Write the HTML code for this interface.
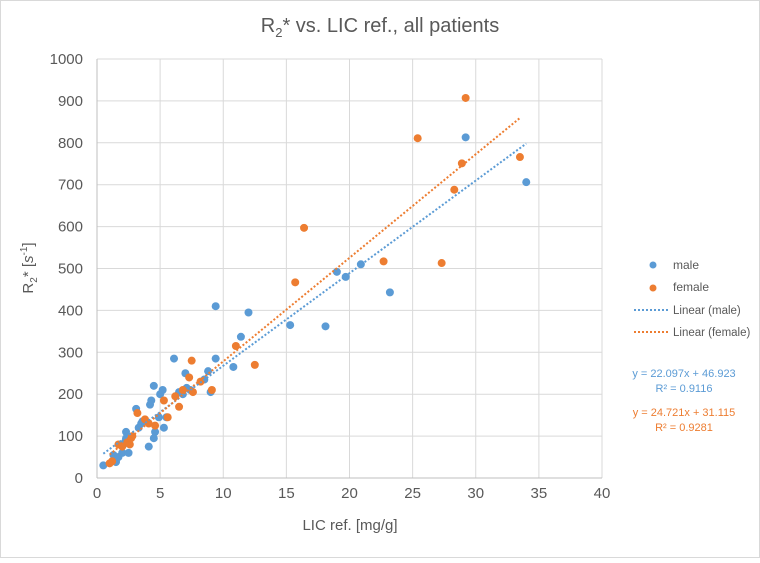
<!DOCTYPE html>
<html><head><meta charset="utf-8"><style>
body{margin:0;background:#fff;font-family:"Liberation Sans",sans-serif}
svg text{font-family:"Liberation Sans",sans-serif}
</style></head><body>
<svg width="760" height="558" viewBox="0 0 760 558">
<rect x="0.5" y="0.5" width="759" height="557" fill="#fff" stroke="#d9d9d9"/>
<text x="380" y="32" text-anchor="middle" font-size="20" fill="#595959">R<tspan font-size="13" dy="5">2</tspan><tspan dy="-5">* vs. LIC ref., all patients</tspan></text>
<g id="grid"></g><g id="marks"></g>
<text x="350" y="530" text-anchor="middle" font-size="15" fill="#595959">LIC ref. [mg/g]</text>
<text transform="translate(33,268) rotate(-90)" text-anchor="middle" font-size="15" fill="#595959">R<tspan font-size="10" dy="4">2</tspan><tspan dy="-4">* [</tspan><tspan font-style="italic">s</tspan><tspan font-size="10" dy="-6">-1</tspan><tspan dy="6">]</tspan></text>
<g font-size="12" fill="#595959">
<circle cx="653" cy="265" r="3.5" fill="#5b9bd5"/>
<text x="673" y="269">male</text>
<circle cx="653" cy="288" r="3.5" fill="#ed7d31"/>
<text x="673" y="291">female</text>
<line x1="634" y1="310" x2="670" y2="310" stroke="#5b9bd5" stroke-width="2" stroke-dasharray="2,2"/>
<text x="673" y="314" font-size="11.5">Linear (male)</text>
<line x1="634" y1="332" x2="670" y2="332" stroke="#ed7d31" stroke-width="2" stroke-dasharray="2,2"/>
<text x="673" y="336" font-size="11.5">Linear (female)</text>
</g>
<g font-size="11" text-anchor="middle">
<text x="684" y="377" fill="#5b9bd5">y = 22.097x + 46.923</text>
<text x="684" y="392" fill="#5b9bd5">R² = 0.9116</text>
<text x="684" y="416" fill="#ed7d31">y = 24.721x + 31.115</text>
<text x="684" y="431" fill="#ed7d31">R² = 0.9281</text>
</g>
</svg>
<script>
const xTicks=[0,5,10,15,20,25,30,35,40];
const yTicks=[0,100,200,300,400,500,600,700,800,900,1000];
const maleX=[0.5,1.3,1.5,1.7,2,2.2,2.3,2.5,2.1,1.5,2.3,3.1,3.3,3.5,3.6,4.1,4.3,4.2,4.5,4.6,4.5,4.9,5,5.2,5.3,5.5,6.1,6.5,6.8,7,7.1,7.4,8.5,8.8,9,9.4,9.4,10.8,11.4,12,15.3,18.1,19,19.7,20.9,23.2,29.2,34];
const maleY=[30,55,38,50,60,85,110,60,80,40,95,165,120,130,135,75,185,175,220,110,95,145,200,210,120,145,285,205,200,250,215,210,235,255,205,410,285,265,337,395,365,362,492,480,510,443,813,706];
const femaleX=[1,1.2,1.7,2,2.4,2.6,2.7,2.8,3.2,3.8,4.1,4.6,5.3,5.6,6.2,6.5,6.8,7.3,7.5,7.6,8.2,9.1,11,12.5,15.7,16.4,22.7,25.4,27.3,28.3,28.9,29.2,33.5];
const femaleY=[35,40,80,75,85,80,95,100,155,140,130,125,185,145,195,170,210,240,280,205,230,210,315,270,467,597,517,811,513,688,751,907,766];
const maleFit=[22.097,46.923], femaleFit=[24.721,31.115];
const X0=97,X1=602,Y0=478,Y1=59;
const sx=v=>X0+(v-0)/(40)*(X1-X0);
const sy=v=>Y0-(v/1000)*(Y0-Y1);
const NS="http://www.w3.org/2000/svg";
const grid=document.getElementById('grid'),marks=document.getElementById('marks');
function mk(tag,attrs,parent){const e=document.createElementNS(NS,tag);for(const k in attrs)e.setAttribute(k,attrs[k]);parent.appendChild(e);return e;}
xTicks.forEach(t=>{
 const l=mk('line',{x1:sx(t),x2:sx(t),y1:Y1,y2:Y0,stroke:'#d9d9d9'},grid);
 
 
 const tx=mk('text',{x:sx(t),y:Y0+20,'text-anchor':'middle','font-size':15,fill:'#595959'},grid);tx.textContent=t;
 
 
});
yTicks.forEach(t=>{
 const l=mk('line',{x1:X0,x2:X1,y1:sy(t),y2:sy(t),stroke:'#d9d9d9'},grid);
 
 
 const tx=mk('text',{x:X0-14,y:sy(t)+5,'text-anchor':'end','font-size':15,fill:'#595959'},grid);tx.textContent=t;
 
 
});
const ax=mk('line',{x1:X0,x2:X1,y1:Y0,y2:Y0,stroke:'#bfbfbf'},grid);


const ay=mk('line',{x1:X0,x2:X0,y1:Y1,y2:Y0,stroke:'#bfbfbf'},grid);


function pts(xs,ys,col,name){xs.forEach((x,i)=>{const c=mk('circle',{cx:sx(x),cy:sy(ys[i]),r:4,fill:col},marks);
 
 });}
function fit(xs,f,col,name){const a=Math.min(...xs),b=Math.max(...xs);
 const l=mk('line',{x1:sx(a),y1:sy(f[0]*a+f[1]),x2:sx(b),y2:sy(f[0]*b+f[1]),stroke:col,'stroke-width':2,'stroke-dasharray':'2,2'},marks);
 
 }
pts(maleX,maleY,'#5b9bd5','male-point');
pts(femaleX,femaleY,'#ed7d31','female-point');
fit(maleX,maleFit,'#5b9bd5','male-trendline');
fit(femaleX,femaleFit,'#ed7d31','female-trendline');
</script>
</body></html>
